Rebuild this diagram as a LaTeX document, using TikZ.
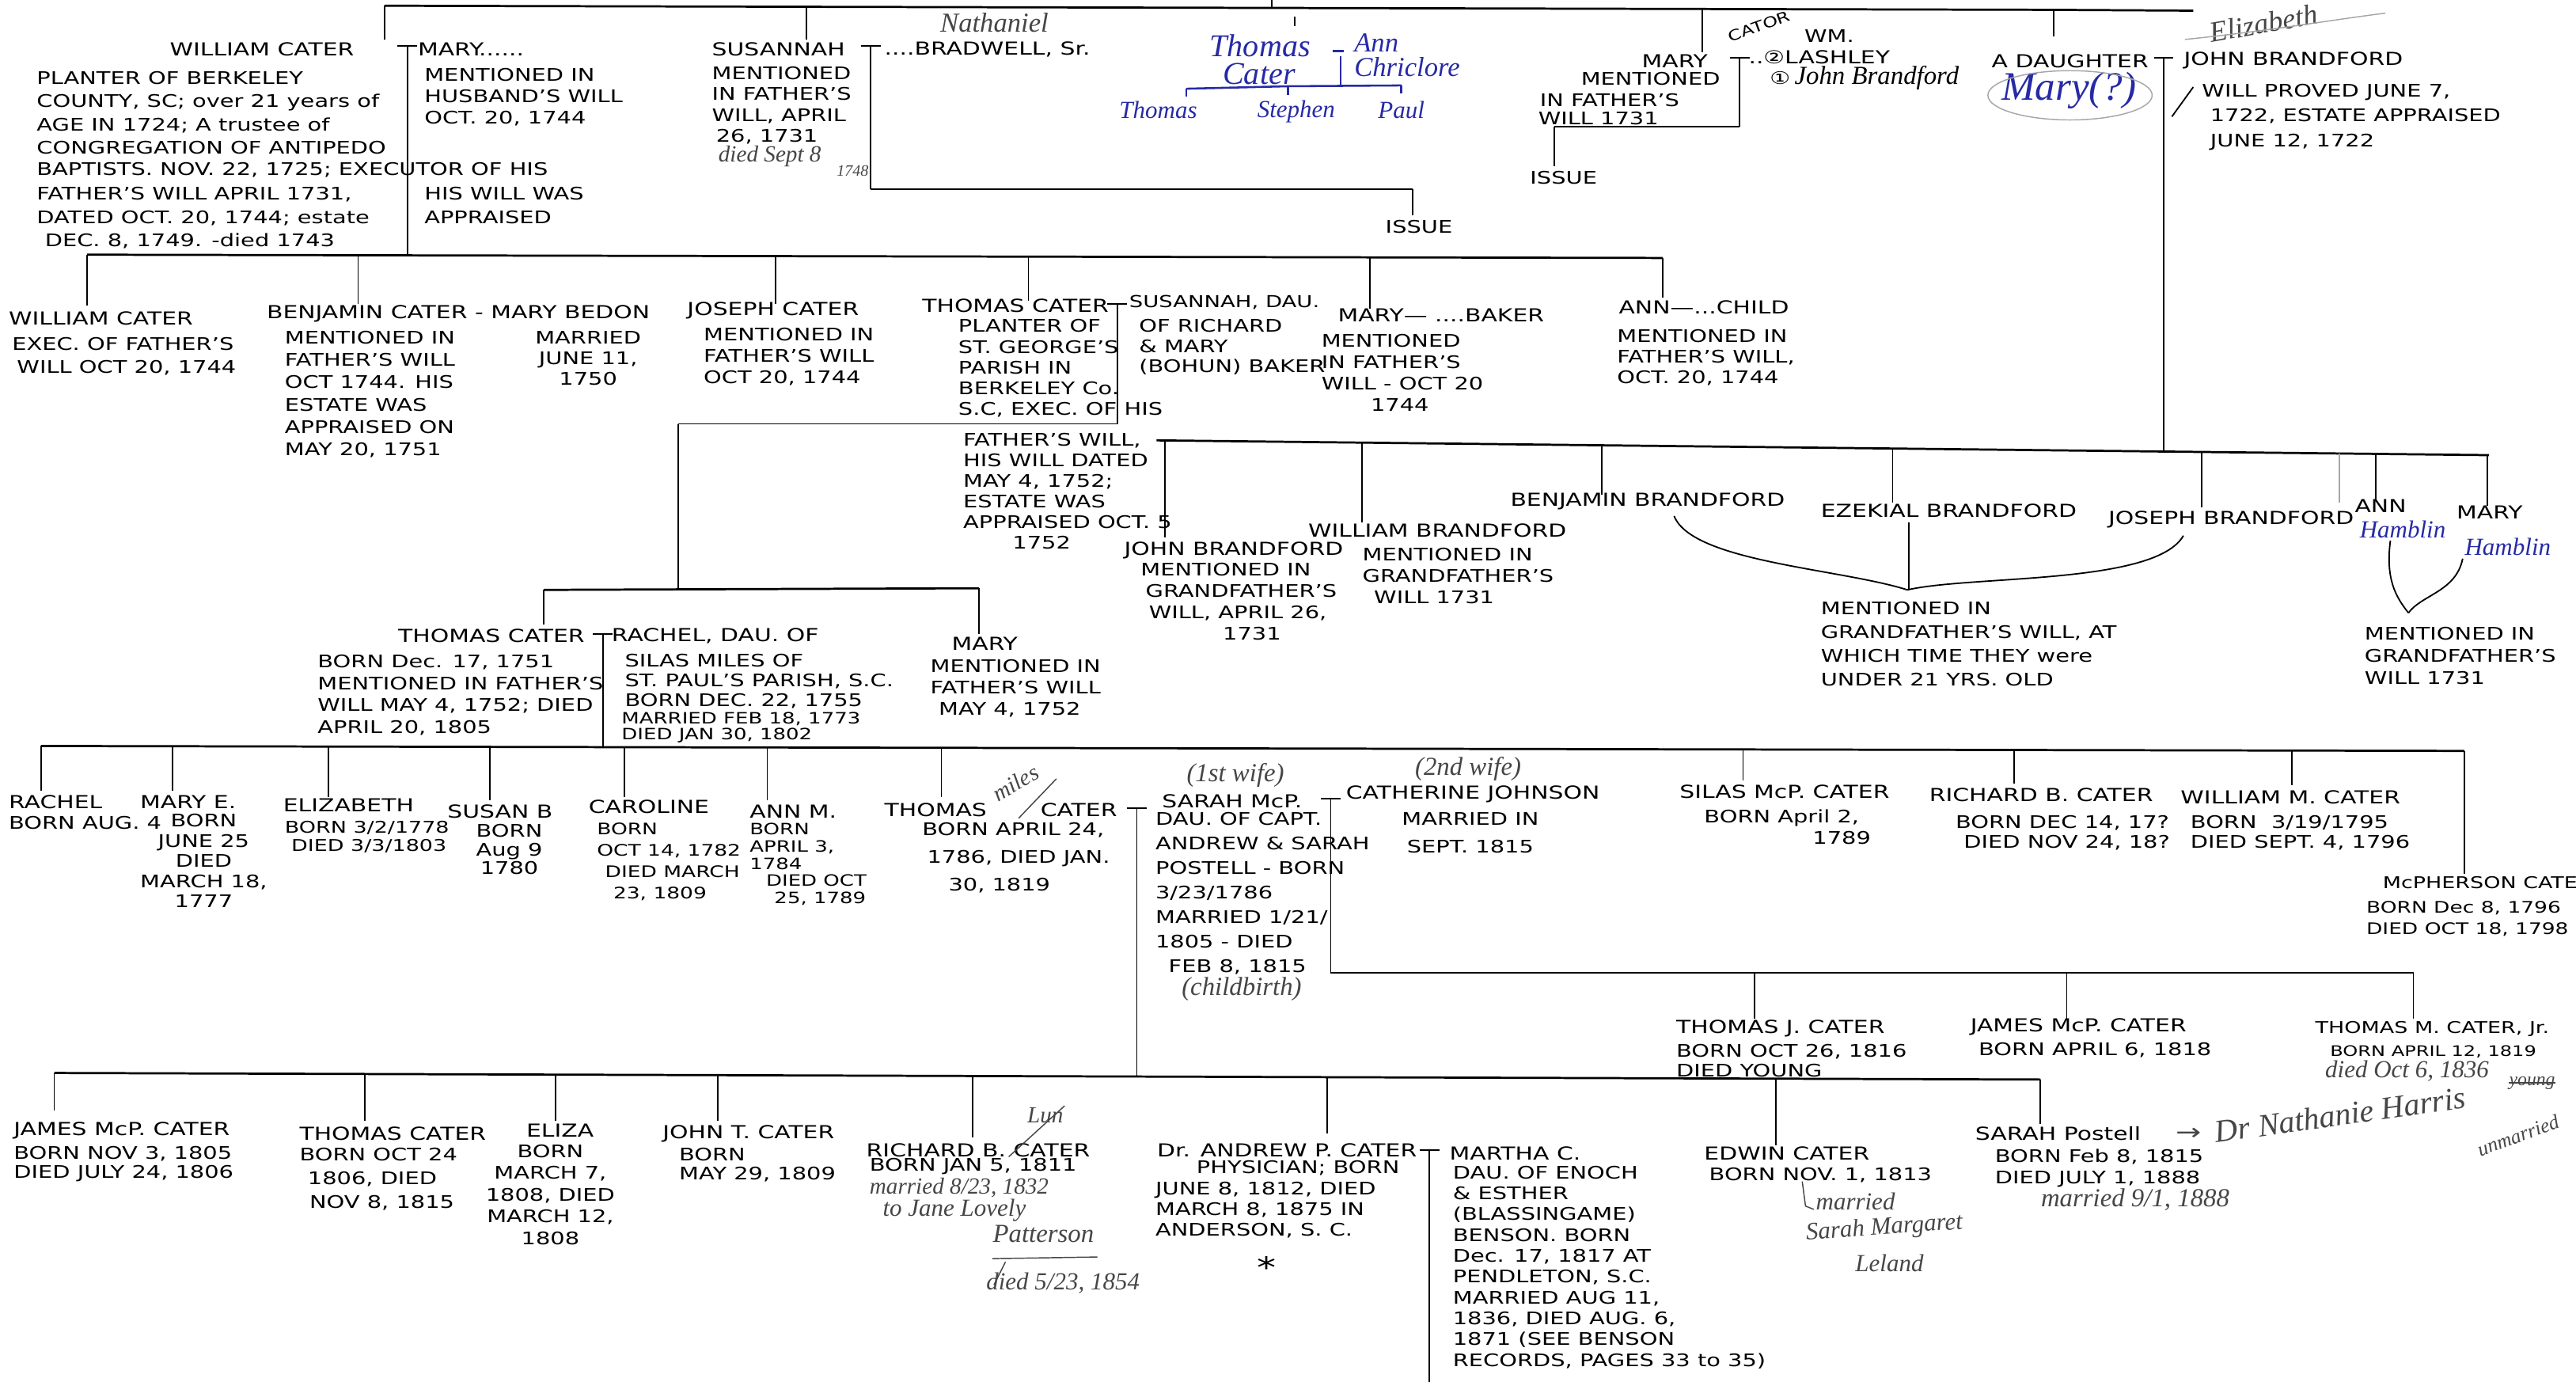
\documentclass[tikz,border=0pt]{standalone}
\usepackage{fontspec}
\setmainfont{DejaVu Sans}[FakeStretch=1.32]
\newfontfamily\hwfam{Liberation Serif}
\definecolor{inkblue}{RGB}{38,42,165}
\definecolor{pencil}{RGB}{70,70,70}
\newcommand\bt{\fontsize{6}{7.4}\selectfont}
\newcommand\sk[1]{\fontsize{6}{#1}\selectfont}
\newcommand\nmf{\fontsize{6.2}{7.5}\selectfont}
\newcommand\hwf[1]{\hwfam\itshape\fontsize{#1}{#1}\selectfont}
\newcommand\vdrop[4]{\coordinate (#1a) at (#2,#3);\coordinate (#1b) at (#2,#4);\draw[ln] (#1a) -- (#1b);}
\newcommand\hseg[4]{\coordinate (#1a) at (#2,#4);\coordinate (#1b) at (#3,#4);\draw[ln] (#1a) -- (#1b);}
\newcommand\marr[4]{\coordinate (#1l) at (#2-6,#3);\coordinate (#1r) at (#2+6,#3);\coordinate (#1t) at (#2,#3);\coordinate (#1b) at (#2,#4);\draw[ln] (#1l) -- (#1r);\draw[ln] (#1t) -- (#1b);}
\tikzset{
 ln/.style={line width=0.5pt},
 bus/.style={line width=0.75pt},
 bln/.style={line width=0.7pt, draw=inkblue},
 pl/.style={line width=0.4pt, draw=pencil},
 faint/.style={line width=0.4pt, draw=black!35},
 nm/.style={inner sep=0pt, anchor=west, font=\nmf},
 one/.style={inner sep=0pt, anchor=west, font=\bt},
 tx/.style={inner sep=0pt, anchor=north west, align=left, font=\bt},
 hw/.style={inner sep=0pt, anchor=west, text=pencil},
 bl/.style={inner sep=0pt, anchor=west, text=inkblue}
}
\begin{document}
\begin{tikzpicture}[x=0.02cm, y=-0.02cm]
\useasboundingbox (0,0) rectangle (1568,841);
\fill[white] (0,0) rectangle (1568,841);

% ---------- top line ----------
\coordinate (top0) at (234,3.5); \coordinate (top1) at (1250,6); \coordinate (top2) at (1335,6.5);
\draw[bus] (top0) -- (top1) -- (top2);
\vdrop{tw}{234}{3.5}{24}
\vdrop{ts}{491}{4}{24}
\vdrop{tst}{774}{0}{4.7}
\vdrop{tm}{1036}{5.6}{32}
\vdrop{td}{1250}{6}{22}
\node[hw, font=\hwf{10}, rotate=10] (eliz) at (1345,20) {Elizabeth};
\coordinate (sw1) at (1330,24); \coordinate (sw2) at (1452,8);
\draw[faint] (sw1) .. controls (1380,19) and (1420,12) .. (sw2);

% ---------- generation 1 ----------
\node[nm] (wc1) at (103,30) {WILLIAM CATER};
\marr{m1}{248}{28}{155}
\node[nm] (mary1) at (254,30) {MARY......};
\node[tx, font=\sk{8.03}] (wc1d) at (22,43.1) {PLANTER OF BERKELEY\\COUNTY, SC; over 21 years of\\AGE IN 1724; A trustee of\\CONGREGATION OF ANTIPEDO};
\node[one] (wc1e) at (22,103.5) {BAPTISTS. NOV. 22, 1725; EXECUTOR OF HIS};
\node[tx, font=\sk{8.03}] (wc1f) at (22,113.7) {FATHER'S WILL APRIL 1731,\\DATED OCT. 20, 1744; estate\\\hspace*{1mm}DEC. 8, 1749. -died 1743};
\node[tx] (mary1d) at (258,41.1) {MENTIONED IN\\HUSBAND'S WILL\\OCT. 20, 1744};
\node[tx, font=\sk{8.03}] (mary1e) at (258,113.7) {HIS WILL WAS\\APPRAISED};

\node[nm] (sus1) at (433,30) {SUSANNAH};
\marr{m2}{530}{28}{115}
\node[nm] (brad) at (538,30) {....BRADWELL, Sr.};
\node[hw, font=\hwf{9.5}] (nath) at (572,14) {Nathaniel};
\node[tx, font=\sk{7.25}] (sus1d) at (433,40.1) {MENTIONED\\IN FATHER'S\\WILL, APRIL\\\hspace*{0.5mm}26, 1731};
\node[hw, font=\hwf{8}] (sus1x) at (437,95) {died Sept 8};
\node[hw, font=\hwf{5.5}] (sus1y) at (509,104) {1748};
\hseg{iss1}{530}{860}{115}
\vdrop{iss1d}{860}{115}{131}
\node[one] (issue1) at (843,138) {ISSUE};

% blue note
\vdrop{btk}{788}{10}{16}
\node[bl, font=\hwf{11}] (thc) at (736,28) {Thomas};
\node[bl, font=\hwf{11}] (thc2) at (744,45) {Cater};
\coordinate (bd1) at (811,31); \coordinate (bd2) at (818,31);
\draw[bln] (bd1) -- (bd2);
\node[bl, font=\hwf{9.5}] (annc) at (824,26) {Ann};
\node[bl, font=\hwf{9.5}] (annc2) at (824,41) {Chriclore};
\coordinate (bv1) at (816,34); \coordinate (bv2) at (816,52);
\draw[bln] (bv1) -- (bv2);
\coordinate (bh1) at (722,54); \coordinate (bh2) at (784,52.5); \coordinate (bh3) at (853,52);
\draw[bln] (bh1) -- (bh2) -- (bh3);
\coordinate (bk1) at (722,59); \coordinate (bk2) at (784,58); \coordinate (bk3) at (853,57);
\draw[bln] (bh1) -- (bk1); \draw[bln] (bh2) -- (bk2); \draw[bln] (bh3) -- (bk3);
\node[bl, font=\hwf{8.5}, anchor=center] (bth) at (705,67) {Thomas};
\node[bl, font=\hwf{8.5}, anchor=center] (bst) at (789,68) {Stephen};
\node[bl, font=\hwf{8.5}, anchor=center] (bpa) at (853,67) {Paul};

% Mary - Lashley
\node[nm] (mary2) at (999,37) {MARY};
\marr{m3}{1059}{35}{77}
\node[one, font=\fontsize{5}{6}\selectfont, rotate=20] (cator) at (1052,23) {CATOR};
\node[one] (wm) at (1098,22) {WM.};
\node[nm] (lash) at (1064,35) {..②LASHLEY};
\node[inner sep=0pt, anchor=west] (jb) at (1077,47.5) {{\bt ①}\hspace{0.5mm}{\hwf{9}John Brandford}};
\node[one] (mary2a) at (962,48) {MENTIONED};
\node[one] (mary2b) at (937,61) {IN FATHER'S};
\node[one] (mary2c) at (936,72) {WILL 1731};
\hseg{iss2}{946}{1059}{77}
\vdrop{iss2d}{946}{77}{101}
\node[one] (issue2) at (931,108) {ISSUE};

% A daughter - John Brandford
\node[nm] (dau) at (1212,37) {A DAUGHTER};
\marr{m4}{1317}{35}{275}
\node[nm] (jbr) at (1329,37) {JOHN BRANDFORD};
\node[bl, font=\hwf{14}] (marq) at (1218,55) {Mary(?)};
\draw[faint] (1260,58) ellipse [x radius=1cm, y radius=0.3cm];
\coordinate (sl1) at (1322,71); \coordinate (sl2) at (1335,53);
\draw[ln] (sl1) -- (sl2);
\node[tx, font=\sk{8.65}] (jbrd) at (1340,50.7) {WILL PROVED JUNE 7,\\\hspace*{1mm}1722, ESTATE APPRAISED\\\hspace*{1mm}JUNE 12, 1722};

% ---------- generation 2 ----------
\coordinate (b2l) at (53,155); \coordinate (b2r) at (1012,157);
\draw[bus] (b2l) -- (b2r);
\vdrop{d21}{53}{155}{186}
\vdrop{d22}{218}{155.3}{185}
\vdrop{d23}{472}{155.9}{185}
\vdrop{d24}{626}{156.2}{183}
\vdrop{d25}{834}{156.6}{188}
\vdrop{d26}{1012}{157}{181}

\node[nm] (wc2) at (5,194) {WILLIAM CATER};
\node[tx, font=\sk{7.97}] (wc2d) at (7,205.1) {EXEC. OF FATHER'S\\\hspace*{0.6mm}WILL OCT 20, 1744};
\node[nm] (bc) at (162,191) {BENJAMIN CATER - MARY BEDON};
\node[tx, font=\sk{7.74}] (bcd) at (173,201.1) {MENTIONED IN\\FATHER'S WILL\\OCT 1744. HIS\\ESTATE WAS\\APPRAISED ON\\MAY 20, 1751};
\node[tx, align=center, anchor=north, font=\sk{7.2}] (mbd) at (358,201.1) {MARRIED\\JUNE 11,\\1750};
\node[nm] (jc) at (418,189) {JOSEPH CATER};
\node[tx] (jcd) at (428,199.1) {MENTIONED IN\\FATHER'S WILL\\OCT 20, 1744};

\node[nm] (tc) at (561,186) {THOMAS CATER};
\marr{m5}{680}{185}{258}
\node[nm, font=\fontsize{5.7}{7}\selectfont] (susd) at (687,184) {SUSANNAH, DAU.};
\node[tx, font=\sk{7.2}] (tcd) at (583,194.1) {PLANTER OF\\ST. GEORGE'S\\PARISH IN\\BERKELEY Co.\\S.C, EXEC. OF};
\node[one] (tchis) at (684,249) {HIS};
\node[tx, font=\sk{7.17}] (tcd2) at (586,263.1) {FATHER'S WILL,\\HIS WILL DATED\\MAY 4, 1752;\\ESTATE WAS\\APPRAISED OCT. 5\\\hspace*{6mm}1752};
\node[tx, font=\sk{6.9}] (susd2) at (693,194.1) {OF RICHARD\\\& MARY\\(BOHUN) BAKER};
\node[nm] (mbk) at (814,192) {MARY— ....BAKER};
\node[tx] (mbkd) at (804,203.1) {MENTIONED\\IN FATHER'S\\WILL - OCT 20\\\hspace*{6mm}1744};
\node[nm] (ann) at (985,187) {ANN—...CHILD};
\node[tx, font=\sk{7.1}] (annd) at (984,200.1) {MENTIONED IN\\FATHER'S WILL,\\OCT. 20, 1744};

% ---------- Brandford children ----------
\coordinate (bbl) at (704,268); \coordinate (bbr) at (1515,277);
\draw[bus] (bbl) -- (bbr);
\vdrop{db1}{709}{268}{327}
\vdrop{db2}{829}{269.4}{318}
\vdrop{db3}{975}{271}{301}
\vdrop{db4}{1152}{273}{306}
\vdrop{db5}{1340}{275}{309}
\coordinate (db6a) at (1424,276); \coordinate (db6b) at (1424,306);
\draw[faint] (db6a) -- (db6b);
\vdrop{db7}{1446}{276.2}{304}
\vdrop{db8}{1514}{277}{308}

\node[nm] (jb2) at (684,335) {JOHN BRANDFORD};
\node[tx, font=\sk{7.4}] (jb2d) at (694,342.1) {MENTIONED IN\\\hspace*{0.6mm}GRANDFATHER'S\\\hspace*{1mm}WILL, APRIL 26,\\\hspace*{10mm}1731};
\node[nm] (wb2) at (796,323) {WILLIAM BRANDFORD};
\node[tx, font=\sk{7.4}] (wb2d) at (829,333.1) {MENTIONED IN\\GRANDFATHER'S\\\hspace*{1.4mm}WILL 1731};
\node[nm] (bb2) at (919,305) {BENJAMIN BRANDFORD};
\node[nm] (eb2) at (1108,311) {EZEKIAL BRANDFORD};
\node[nm] (jo2) at (1283,316) {JOSEPH BRANDFORD};
\node[nm] (an2) at (1433,308) {ANN};
\node[bl, font=\hwf{8.5}] (ham1) at (1436,322) {Hamblin};
\node[nm] (ma2) at (1495,312) {MARY};
\node[bl, font=\hwf{8.5}] (ham2) at (1500,333) {Hamblin};

\coordinate (brc) at (1161,359);
\coordinate (brl) at (1019,314); \coordinate (brr) at (1329,326);
\draw[ln] (brl) .. controls (1030,342) and (1120,346) .. (brc);
\draw[ln] (brr) .. controls (1312,356) and (1200,350) .. (brc);
\vdrop{ezb}{1162}{318}{359}
\node[tx, font=\sk{8.14}] (ezd) at (1108,366.1) {MENTIONED IN\\GRANDFATHER'S WILL, AT\\WHICH TIME THEY were\\UNDER 21 YRS. OLD};

\coordinate (amc) at (1466,373);
\coordinate (aml) at (1455,329); \coordinate (amr) at (1499,340);
\draw[ln] (aml) .. controls (1452,352) and (1458,363) .. (amc);
\draw[ln] (amr) .. controls (1495,360) and (1474,362) .. (amc);
\node[tx, font=\sk{7.8}] (amd) at (1439,381.1) {MENTIONED IN\\GRANDFATHER'S\\WILL 1731};

% ---------- generation 3 ----------
\hseg{t2}{413}{680}{258}
\vdrop{t2d}{413}{258}{359}
\coordinate (b3l) at (331,359); \coordinate (b3r) at (596,358);
\draw[bus] (b3l) -- (b3r);
\vdrop{d31}{331}{359}{380}
\vdrop{d32}{596}{358}{386}

\node[nm] (tc3) at (242,387) {THOMAS CATER};
\marr{m6}{367}{386}{454.7}
\node[nm] (rach) at (372,387) {RACHEL, DAU. OF};
\node[tx, font=\sk{7.6}] (tc3d) at (193,398.1) {BORN Dec. 17, 1751\\MENTIONED IN FATHER'S\\WILL MAY 4, 1752; DIED\\APRIL 20, 1805};
\node[tx, font=\sk{6.85}] (rachd) at (380,397.6) {SILAS MILES OF\\ST. PAUL'S PARISH, S.C.\\BORN DEC. 22, 1755};
\node[one, font=\fontsize{5.4}{6}\selectfont] (rachm) at (378,437.5) {MARRIED FEB 18, 1773};
\node[one, font=\fontsize{5.4}{6}\selectfont] (rachx) at (378,447.5) {DIED JAN 30, 1802};
\node[nm] (mary3) at (579,392) {MARY};
\node[tx, font=\sk{7.4}] (mary3d) at (566,401.1) {MENTIONED IN\\FATHER'S WILL\\\hspace*{1mm}MAY 4, 1752};

% ---------- generation 4 ----------
\coordinate (b4l) at (25,454); \coordinate (b4r) at (1500,457);
\draw[bus] (b4l) -- (b4r);
\vdrop{d41}{25}{454}{481}
\vdrop{d42}{105}{454.2}{481}
\vdrop{d43}{200}{454.4}{485}
\vdrop{d44}{298}{454.6}{487}
\vdrop{d45}{380}{454.7}{485}
\vdrop{d46}{467}{454.9}{487}
\vdrop{d47}{573}{455.1}{485}
\vdrop{d48}{1061}{456.1}{475}
\vdrop{d49}{1226}{456.4}{477}
\vdrop{d4a}{1395}{456.8}{478}
\vdrop{d4m}{1500}{457}{532}

\node[nm] (r4a) at (5,488) {RACHEL};
\node[one] (r4ad) at (5,501) {BORN AUG. 4};
\node[nm] (r4b) at (85,488) {MARY E.};
\node[tx, align=center, anchor=north, font=\sk{6.97}] (r4bd) at (124,495.1) {BORN\\JUNE 25\\DIED\\MARCH 18,\\1777};
\node[nm] (r4c) at (172,490) {ELIZABETH};
\node[tx, font=\fontsize{5.6}{6.3}\selectfont] (r4cd) at (173,499.4) {BORN 3/2/1778\\\hspace*{0.8mm}DIED 3/3/1803};
\node[nm] (r4d) at (272,494) {SUSAN B};
\node[tx, align=center, anchor=north, font=\sk{6.55}] (r4dd) at (310,501.1) {BORN\\Aug 9\\1780};
\node[nm] (r4e) at (358,491) {CAROLINE};
\node[tx, font=\fontsize{5.5}{7.4}\selectfont] (r4ed) at (363,500.5) {BORN\\OCT 14, 1782\\\hspace*{1mm}DIED MARCH\\\hspace*{2mm}23, 1809};
\node[nm] (r4f) at (456,494) {ANN M.};
\node[tx, font=\fontsize{5.4}{6}\selectfont] (r4fd) at (456,500.5) {BORN\\APRIL 3,\\1784\\\hspace*{2mm}DIED OCT\\\hspace*{3mm}25, 1789};

\node[nm] (tm) at (538,493) {THOMAS};
\node[nm] (tm2) at (633,493) {CATER};
\node[hw, font=\hwf{8}, rotate=30] (tmm) at (605,484) {miles};
\coordinate (ms1) at (620,498); \coordinate (ms2) at (643,474);
\draw[pl] (ms1) -- (ms2);
\marr{m7}{692}{492}{655}
\node[tx, font=\sk{9.67}] (tmd) at (561,500.1) {BORN APRIL 24,\\\hspace*{0.6mm}1786, DIED JAN.\\\hspace*{3.2mm}30, 1819};

\node[hw, font=\hwf{9}] (w1) at (722,472) {(1st wife)};
\node[nm] (sar) at (707,487.5) {SARAH McP.};
\marr{m8}{810}{486}{592}
\node[tx, font=\sk{8.48}] (sard) at (703,494.1) {DAU. OF CAPT.\\ANDREW \& SARAH\\POSTELL - BORN\\3/23/1786\\MARRIED 1/21/\\1805 - DIED\\\hspace*{1.6mm}FEB 8, 1815};
\node[hw, font=\hwf{9}] (sard2) at (719,602) {(childbirth)};
\node[hw, font=\hwf{9}] (w2) at (861,468) {(2nd wife)};
\node[nm] (cath) at (819,483.5) {CATHERINE JOHNSON};
\node[tx, align=center, anchor=north, font=\sk{9.67}] (cathd) at (895,494.1) {MARRIED IN\\SEPT. 1815};

\node[nm] (sil) at (1022,482) {SILAS McP. CATER};
\node[one] (sild) at (1037,498) {BORN April 2,};
\node[one] (sild2) at (1103,510) {1789};
\node[nm] (rbc) at (1174,484) {RICHARD B. CATER};
\node[tx, font=\sk{6.8}] (rbcd) at (1190,496.1) {BORN DEC 14, 17?\\\hspace*{1mm}DIED NOV 24, 18?};
\node[nm] (wmc) at (1327,485) {WILLIAM M. CATER};
\node[tx, font=\sk{6.8}] (wmcd) at (1333,496.1) {BORN \ 3/19/1795\\DIED SEPT. 4, 1796};
\node[nm, font=\fontsize{5.6}{6}\selectfont] (mcp) at (1450,537) {McPHERSON CATE};
\node[tx, font=\fontsize{5.5}{7.3}\selectfont] (mcpd) at (1440,548.1) {BORN Dec 8, 1796\\DIED OCT 18, 1798};

% second wife's children
\coordinate (b5l) at (810,592); \coordinate (b5r) at (1469,592);
\draw[bus] (b5l) -- (b5r);
\vdrop{d51}{1068}{592}{620}
\vdrop{d52}{1258}{592}{620}
\vdrop{d53}{1469}{592}{620}
\node[nm] (tjc) at (1020,626) {THOMAS J. CATER};
\node[tx, font=\sk{6.8}] (tjcd) at (1020,635.1) {BORN OCT 26, 1816\\DIED YOUNG};
\node[nm] (jmc) at (1199,625) {JAMES McP. CATER};
\node[one] (jmcd) at (1204,639) {BORN APRIL 6, 1818};
\node[nm, font=\fontsize{5.6}{6}\selectfont] (tmj) at (1409,626) {THOMAS M. CATER, Jr.};
\node[one, font=\fontsize{5}{6}\selectfont] (tmjd) at (1418,640) {BORN APRIL 12, 1819};
\node[hw, font=\hwf{8.5}] (tmjx) at (1415,652) {died Oct 6, 1836};
\node[hw, font=\hwf{6.5}] (young) at (1527,659) {young};
\draw[pl] (young.west) -- (young.east);
\node[hw, font=\hwf{7}, rotate=20] (unm) at (1508,700) {unmarried};

% ---------- generation 5 ----------
\coordinate (b6l) at (33,653); \coordinate (b6r) at (1242,657);
\draw[bus] (b6l) -- (b6r);
\vdrop{d61}{33}{653}{676}
\vdrop{d62}{222}{653.6}{682}
\vdrop{d63}{338}{654}{682}
\vdrop{d64}{437}{654.3}{682}
\vdrop{d65}{592}{654.8}{692}
\vdrop{d66}{808}{655.6}{690}
\vdrop{d67}{1081}{656.5}{697}
\vdrop{d68}{1242}{657}{684}

\node[nm] (r6a) at (8,688) {JAMES McP. CATER};
\node[tx, font=\sk{6.83}] (r6ad) at (8,697.1) {BORN NOV 3, 1805\\DIED JULY 24, 1806};
\node[nm] (r6b) at (182,690) {THOMAS CATER};
\node[tx, font=\sk{8.25}] (r6bd) at (182,698.1) {BORN OCT 24\\\hspace*{1mm}1806, DIED\\\hspace*{1.2mm}NOV 8, 1815};
\node[nm] (r6c) at (320,688) {ELIZA};
\node[tx, align=center, anchor=north, font=\sk{7.54}] (r6cd) at (335,696.1) {BORN\\MARCH 7,\\1808, DIED\\MARCH 12,\\1808};
\node[nm] (r6d) at (403,690) {JOHN T. CATER};
\node[tx, font=\sk{6.8}] (r6dd) at (413,698.1) {BORN\\MAY 29, 1809};

\node[nm] (r6e) at (527,700) {RICHARD B. CATER};
\node[hw, font=\hwf{8}] (lun) at (625,679) {Lun};
\coordinate (ls1) at (614,704); \coordinate (ls2) at (648,673);
\draw[pl] (ls1) -- (ls2);
\node[one] (r6ed) at (529,710) {BORN JAN 5, 1811};
\node[hw, font=\hwf{8}] (r6e2) at (529,723) {married 8/23, 1832};
\node[hw, font=\hwf{8.5}] (r6e3) at (537,736.5) {to Jane Lovely};
\node[hw, font=\hwf{9}] (r6e4) at (604,751) {Patterson};
\coordinate (pu1) at (604,766); \coordinate (pu2) at (668,765);
\draw[pl] (pu1) -- (pu2);
\coordinate (pu3) at (612,768); \coordinate (pu4) at (605,782);
\draw[pl] (pu3) -- (pu4);
\node[hw, font=\hwf{8.5}] (r6e5) at (600,781) {died 5/23, 1854};

\node[nm] (r6f) at (704,700) {Dr. ANDREW P. CATER};
\marr{m9}{870}{700}{841}
\node[tx, font=\sk{7.2}] (r6fd) at (703,706.1) {\hspace*{5mm}PHYSICIAN; BORN\\JUNE 8, 1812, DIED\\MARCH 8, 1875 IN\\ANDERSON, S. C.};
\node[inner sep=0pt, font=\fontsize{10}{10}\selectfont] (ast) at (771,771) {*};
\node[nm] (mar) at (882,702) {MARTHA C.};
\node[tx, font=\sk{7.23}] (mard) at (884,709.1) {DAU. OF ENOCH\\\& ESTHER\\(BLASSINGAME)\\BENSON. BORN\\Dec. 17, 1817 AT\\PENDLETON, S.C.\\MARRIED AUG 11,\\1836, DIED AUG. 6,\\1871 (SEE BENSON\\RECORDS, PAGES 33 to 35)};

\node[nm] (ed) at (1037,702) {EDWIN CATER};
\node[one] (edd) at (1040,715) {BORN NOV. 1, 1813};
\coordinate (eh1) at (1097,719); \coordinate (eh2) at (1099,734); \coordinate (eh3) at (1104,736);
\draw[pl] (eh1) -- (eh2) -- (eh3);
\node[hw, font=\hwf{8.5}] (edm) at (1105,731) {married};
\node[hw, font=\hwf{8.5}, rotate=4] (edm2) at (1099,751) {Sarah Margaret};
\node[hw, font=\hwf{8.5}] (edm3) at (1129,769) {Leland};

\node[nm] (sp) at (1202,690) {SARAH Postell};
\node[one, text=pencil, font=\fontsize{8}{8}\selectfont] (arr) at (1324,690) {→};
\node[hw, font=\hwf{11}, rotate=8] (harris) at (1348,689) {Dr Nathanie Harris};
\node[tx, font=\sk{7.4}] (spd) at (1214,699.1) {BORN Feb 8, 1815\\DIED JULY 1, 1888};
\node[hw, font=\hwf{9}] (spm) at (1242,730) {married 9/1, 1888};
\end{tikzpicture}
\end{document}
